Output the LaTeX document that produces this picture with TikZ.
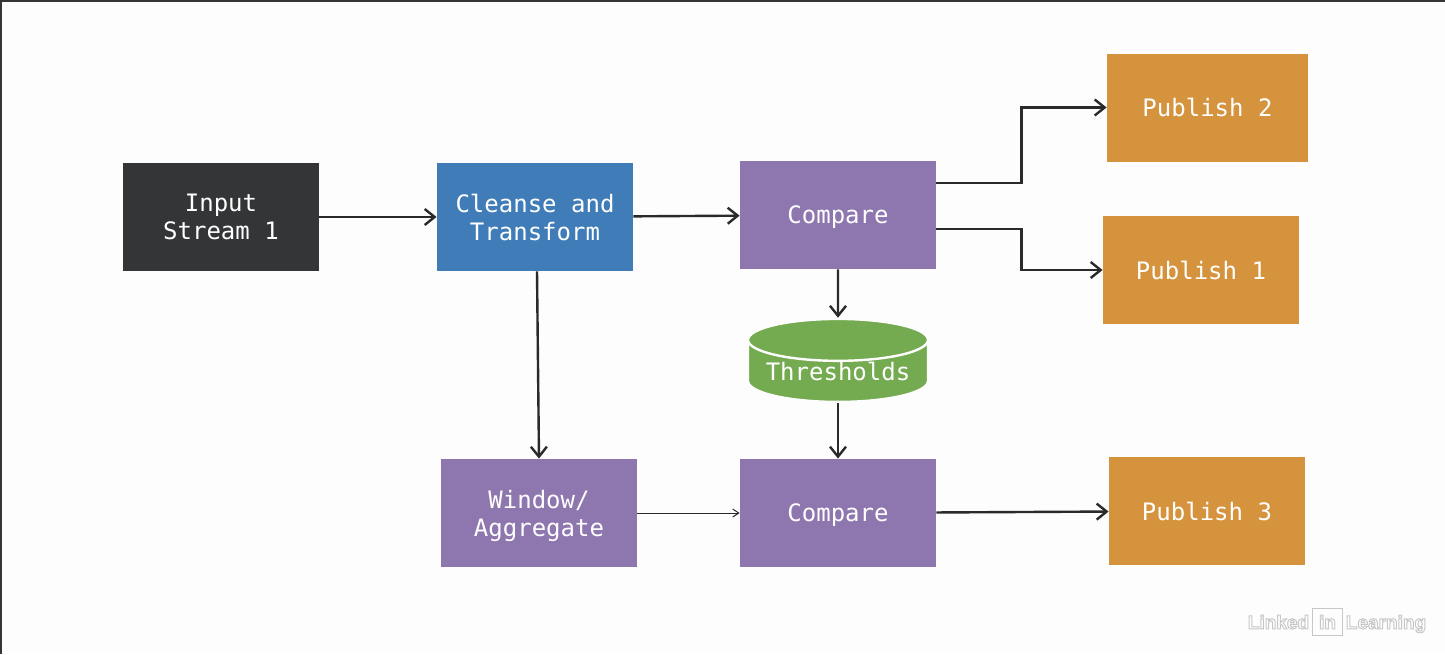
\documentclass[tikz,border=0pt]{standalone}
\usepackage{fontspec}
\setmonofont{DejaVu Sans Mono}
\newfontfamily\wmfont{Liberation Sans}
\usepackage{xcolor}
\usetikzlibrary{arrows.meta,positioning,shapes.geometric}
\definecolor{bgwhite}{HTML}{FDFDFD}
\definecolor{inputdark}{HTML}{343537}
\definecolor{cleanblue}{HTML}{3F7CB8}
\definecolor{procpurple}{HTML}{8E76AF}
\definecolor{puborange}{HTML}{D6933D}
\definecolor{storegreen}{HTML}{74AB50}
\definecolor{linedark}{HTML}{2A2A2A}
\tikzset{
	block/.style={minimum width=98pt,minimum height=54pt,inner sep=0pt,align=center,
		text=white,font=\ttfamily\fontsize{12}{14}\selectfont},
	flow/.style={draw=linedark,line width=1.2pt,-{Straight Barb[length=5pt,width=8pt,line width=1.2pt]}},
	thinflow/.style={draw=linedark,line width=0.5pt,-{Straight Barb[length=3pt,width=4pt,line width=0.5pt]}}
}
\begin{document}
\begin{tikzpicture}[x=0.5pt,y=-0.5pt]
			\fill[bgwhite] (0,0) rectangle (1445,654);
			\fill[inputdark] (0,0) rectangle (1445,2);
			\fill[inputdark] (0,0) rectangle (1.5,654);
			% blocks
			\node[block,fill=inputdark] (input) at (221,217) {Input\\Stream 1};
			\node[block,fill=cleanblue] (clean) at (535,217) {Cleanse and\\Transform};
			\node[block,fill=procpurple,text depth=0pt] (cmpa) at (838,215) {Compare};
			\node[block,fill=procpurple,text depth=0pt] (window) at (539,513) {Window/\\Aggregate};
			\node[block,fill=procpurple,text depth=0pt] (cmpb) at (838,513) {Compare};
			\node[block,fill=puborange,minimum width=100.5pt] (pubb) at (1207.5,107.5) {Publish 2};
			\node[block,fill=puborange] (puba) at (1201,270) {Publish 1};
			\node[block,fill=puborange] (pubc) at (1207,511) {Publish 3};
			% store
			\node[block,shape=cylinder,shape border rotate=90,aspect=0.29,draw=bgwhite,line width=1.2pt,
				cylinder uses custom fill,cylinder body fill=storegreen,cylinder end fill=storegreen,
				minimum width=90pt,minimum height=41.5pt] (store) at (838,371.5) {Thresholds};
			% connectors
			\draw[flow] (input) -- (clean);
			\draw[flow] (clean) -- (cmpa);
			\draw[flow] ([xshift=1pt]clean.south) -- (window.north);
			\draw[flow] (cmpa) -- (store);
			\draw[flow] (store) -- (cmpb);
			\draw[thinflow] (window) -- (cmpb);
			\draw[flow] (cmpb) -- (pubc);
			\draw[flow] ([yshift=16pt]cmpa.east) -- ++(85,0) |- (pubb.west);
			\draw[flow] ([yshift=-7pt]cmpa.east) -- ++(85,0) |- (puba.west);
			% watermark
			\node[inner sep=0pt,font=\wmfont\fontsize{9.5}{11}\selectfont\bfseries,text=white] (mark) at (1337,622)
				{\special{pdf:code 2 Tr 0.5 w 0.78 G 1 g}Linked\,\fbox{in}\,Learning\special{pdf:code 0 Tr}};
\end{tikzpicture}
\end{document}
